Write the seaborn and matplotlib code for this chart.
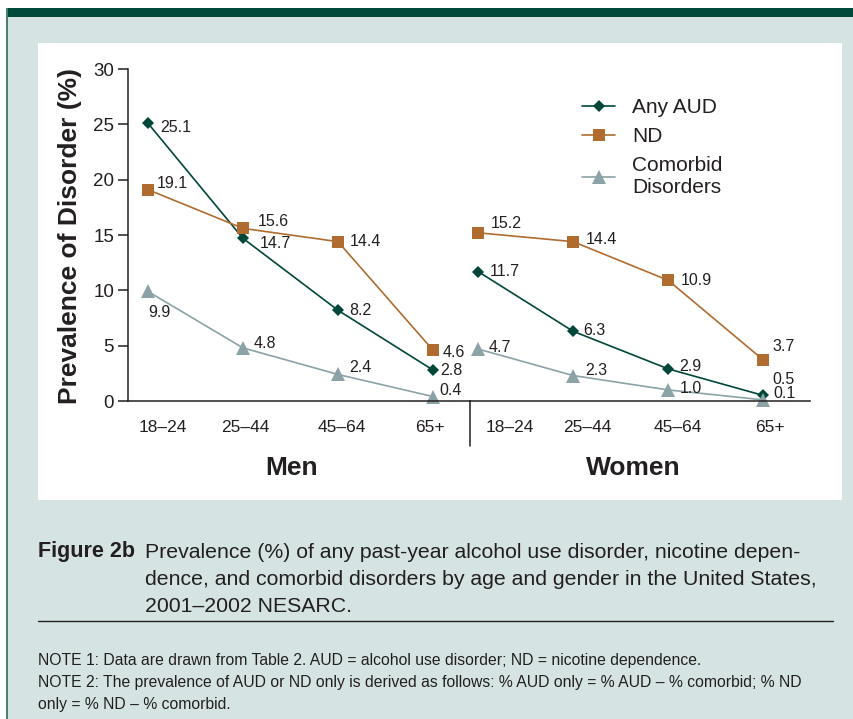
import numpy as np
import pandas as pd
import matplotlib
matplotlib.use("Agg")
import matplotlib.pyplot as plt
from matplotlib.patches import Rectangle
from matplotlib.lines import Line2D
import seaborn as sns

ages = ["18–24", "25–44", "45–64", "65+"]
series = ["Any AUD", "ND", "Comorbid Disorders"]
men_aud = [25.1, 14.7, 8.2, 2.8]
men_nd = [19.1, 15.6, 14.4, 4.6]
men_com = [9.9, 4.8, 2.4, 0.4]
women_aud = [11.7, 6.3, 2.9, 0.5]
women_nd = [15.2, 14.4, 10.9, 3.7]
women_com = [4.7, 2.3, 1.0, 0.1]

sns.set_style("white")
plt.rcParams["font.family"] = ["Liberation Sans", "DejaVu Sans"]

colors = {"Any AUD": "#00473a", "ND": "#b06b2f", "Comorbid Disorders": "#8ba3a7"}
markers = {"Any AUD": "D", "ND": "s", "Comorbid Disorders": "^"}
msize = {"Any AUD": 6.5, "ND": 8.5, "Comorbid Disorders": 9.5}
txt = "#231f20"

# label offsets in pixels (dx, dy) per series per age
men_off = {"Any AUD": [(12, -4), (17, -5), (11, 0), (7, 0)],
           "ND": [(9, 6), (15, 7), (12, 0), (10, -2)],
           "Comorbid Disorders": [(0, -21), (11, 4), (11, 7), (6, 6)]}
women_off = {"Any AUD": [(12, 0), (10, 1), (11, 2), (9, 16)],
             "ND": [(13, 9), (13, 2), (12, 0), (9, 14)],
             "Comorbid Disorders": [(11, 1), (12, 5), (11, 1), (10, 6)]}

# tick boundaries (data units) separating the age groups
men_bounds = [-0.21, 0.516, 1.526, 2.547, 3.39]
women_bounds = [-0.084, 0.747, 1.558, 2.642, 3.49]


def long_df(aud, nd, com):
    return pd.DataFrame({
        "age": ages * 3,
        "value": aud + nd + com,
        "measure": [s for s in series for _ in ages],
    })


fig = plt.figure(figsize=(8.54, 7.19), dpi=100)
fig.patch.set_facecolor("white")

W, H = 854, 719
def fx(px): return px / W
def fy(py): return 1 - py / H

# background frame
fig.patches.append(Rectangle((fx(7), 0), fx(854) - fx(7), fy(8), transform=fig.transFigure,
                             facecolor="#d5e4e2", edgecolor="none", zorder=-3))
fig.patches.append(Rectangle((fx(7), fy(17)), 1 - fx(7), fy(8) - fy(17), transform=fig.transFigure,
                             facecolor="#004a3c", edgecolor="none", zorder=-2))
fig.patches.append(Rectangle((fx(6), 0), fx(2), fy(8), transform=fig.transFigure,
                             facecolor="#4d7d70", edgecolor="none", zorder=-2))
fig.patches.append(Rectangle((fx(38), fy(500)), fx(842) - fx(38), fy(43) - fy(500),
                             transform=fig.transFigure, facecolor="white", edgecolor="none", zorder=-2))

ax_m = fig.add_axes([fx(128), fy(401), fx(470) - fx(128), fy(69) - fy(401)])
ax_w = fig.add_axes([fx(470), fy(401), fx(810) - fx(470), fy(69) - fy(401)])

for ax, df, offs, bounds in [(ax_m, long_df(men_aud, men_nd, men_com), men_off, men_bounds),
                             (ax_w, long_df(women_aud, women_nd, women_com), women_off, women_bounds)]:
    ax.patch.set_alpha(0)
    for s in series:
        d = df[df["measure"] == s]
        sns.lineplot(data=d, x="age", y="value", ax=ax, color=colors[s], marker=markers[s],
                     markersize=msize[s], markeredgewidth=0, linewidth=1.2, sort=False,
                     label=s, legend=False, clip_on=False)
        for i, (a, v) in enumerate(zip(d["age"], d["value"])):
            ax.annotate(f"{v:.1f}", (i, v), xytext=offs[s][i], textcoords="offset pixels",
                        ha="left", va="center", fontsize=11.5, color=txt, annotation_clip=False)
    ax.set_xlim(bounds[0], bounds[-1])
    ax.set_ylim(0, 30)
    ax.set_xlabel("")
    ax.set_ylabel("")
    mids = [(a + b) / 2 for a, b in zip(bounds[:-1], bounds[1:])]
    ax.set_xticks(mids)
    ax.set_xticklabels(ages, fontsize=12.5, color=txt)
    ax.tick_params(axis="x", which="major", length=0, pad=14)
    for sp in ["top", "right"]:
        ax.spines[sp].set_visible(False)
    ax.spines["bottom"].set_color("#231f20")
    ax.spines["bottom"].set_linewidth(1.1)

ax_m.set_xticks(men_bounds[1:-1], minor=True)
ax_w.set_xticks(women_bounds[1:], minor=True)
for ax in (ax_m, ax_w):
    ax.tick_params(axis="x", which="minor", length=6, width=1.1, color="#231f20", direction="out")

ax_m.set_yticks(range(0, 31, 5))
ax_m.tick_params(axis="y", length=7, width=1.1, color="#231f20", labelsize=13.5,
                 labelcolor=txt, left=True, pad=3)
ax_m.spines["left"].set_color("#231f20")
ax_m.spines["left"].set_linewidth(1.1)
ax_w.spines["left"].set_visible(False)
ax_w.set_yticks([])

# divider between the two groups
ax_w.add_line(Line2D([0, 0], [0, -0.135], transform=ax_w.transAxes, color="#231f20",
                     linewidth=1.1, clip_on=False))

fig.text(fx(292), fy(468), "Men", ha="center", va="center", fontsize=19, fontweight="bold", color=txt)
fig.text(fx(633), fy(468), "Women", ha="center", va="center", fontsize=19, fontweight="bold", color=txt)
fig.text(fx(70), fy(236), "Prevalence of Disorder (%)", ha="center", va="center", rotation=90,
         fontsize=19, fontweight="bold", color=txt)

handles = [Line2D([], [], color=colors[s], marker=markers[s], markersize=msize[s],
                  markeredgewidth=0, linewidth=1.2) for s in series]
fig.legend(handles, ["Any AUD", "ND", "Comorbid\nDisorders"], loc="upper left",
           bbox_to_anchor=(fx(582), fy(98)), frameon=False, fontsize=15, handlelength=1.6,
           labelspacing=0.48, handletextpad=0.8, borderpad=0, borderaxespad=0, labelcolor=txt)

# caption
fig.text(fx(38), fy(552), "Figure 2b", ha="left", va="center", fontsize=15.5, fontweight="bold", color=txt)
cap = ["Prevalence (%) of any past-year alcohol use disorder, nicotine depen-",
       "dence, and comorbid disorders by age and gender in the United States,",
       "2001–2002 NESARC."]
for i, line in enumerate(cap):
    fig.text(fx(145), fy(552 + 27.5 * i), line, ha="left", va="center", fontsize=15.3, color=txt)
fig.add_artist(Line2D([fx(38), fx(833)], [fy(621), fy(621)], color="#231f20", linewidth=1.0))
notes = ["NOTE 1: Data are drawn from Table 2. AUD = alcohol use disorder; ND = nicotine dependence.",
         "NOTE 2: The prevalence of AUD or ND only is derived as follows: % AUD only = % AUD – % comorbid; % ND",
         "only = % ND – % comorbid."]
for i, line in enumerate(notes):
    fig.text(fx(38), fy(661 + 22 * i), line, ha="left", va="center", fontsize=11.3, color=txt)

fig.savefig("out.png", dpi=100)
